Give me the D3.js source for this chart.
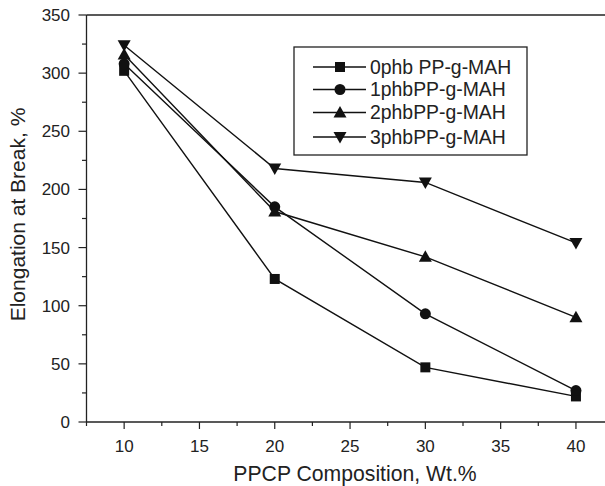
<!DOCTYPE html>
<html>
<head>
<meta charset="utf-8">
<script src="https://cdn.jsdelivr.net/npm/d3@7"></script>
<style>
body { margin: 0; background: #fff; }
text { font-family: "Liberation Sans", Arial, Helvetica, sans-serif; fill: #222; }
</style>
</head>
<body>
<svg id="chart" width="605" height="486"></svg>
<script>
// data
var composition = [10, 20, 30, 40];
var seriesNames = ["0phb PP-g-MAH", "1phbPP-g-MAH", "2phbPP-g-MAH", "3phbPP-g-MAH"];
var phb0 = [302, 123, 47, 22];
var phb1 = [308, 185, 93, 27];
var phb2 = [316, 181, 142, 90];
var phb3 = [324, 218, 206, 154];
var yTicks = [0, 50, 100, 150, 200, 250, 300, 350];
var xTicks = [10, 15, 20, 25, 30, 35, 40];

var series = [
  { name: seriesNames[0], values: phb0, shape: "square" },
  { name: seriesNames[1], values: phb1, shape: "circle" },
  { name: seriesNames[2], values: phb2, shape: "up" },
  { name: seriesNames[3], values: phb3, shape: "down" }
];

var svg = d3.select("#chart");
var padLeft = 86.5, padTop = 15, padBottom = 422;

var x = d3.scaleLinear().domain([7.5, 42.5]).range([padLeft, padLeft + 35 * 15.06]);
var y = d3.scaleLinear().domain([0, 350]).range([padBottom, padTop]);

function marker(sel, shape) {
  if (shape === "square") {
    sel.append("rect").attr("x", -5).attr("y", -5).attr("width", 10).attr("height", 10);
  } else if (shape === "circle") {
    sel.append("circle").attr("r", 5.5);
  } else if (shape === "up") {
    sel.append("path").attr("d", "M0,-6.5L6.5,5L-6.5,5Z");
  } else {
    sel.append("path").attr("d", "M0,6.5L6.5,-5L-6.5,-5Z");
  }
  sel.selectAll("*").attr("fill", "#111");
}

// frame top line + axes
svg.append("line").attr("x1", padLeft).attr("x2", 605).attr("y1", padTop).attr("y2", padTop)
  .attr("stroke", "#222").attr("stroke-width", 1.3);

var yMinor = d3.range(25, 350, 50);
var gy = svg.append("g");
gy.append("line").attr("x1", padLeft).attr("x2", padLeft).attr("y1", padTop).attr("y2", padBottom)
  .attr("stroke", "#222").attr("stroke-width", 1.3);
gy.selectAll(".maj").data(yTicks).enter().append("line")
  .attr("x1", padLeft - 8).attr("x2", padLeft).attr("y1", function (d) { return y(d); }).attr("y2", function (d) { return y(d); })
  .attr("stroke", "#222").attr("stroke-width", 1.2);
gy.selectAll(".min").data(yMinor).enter().append("line")
  .attr("x1", padLeft - 4.5).attr("x2", padLeft).attr("y1", function (d) { return y(d); }).attr("y2", function (d) { return y(d); })
  .attr("stroke", "#222").attr("stroke-width", 1.2);
gy.selectAll("text").data(yTicks).enter().append("text")
  .attr("x", 70).attr("y", function (d) { return y(d) + 6; })
  .attr("text-anchor", "end").style("font-size", "17px")
  .text(function (d) { return d; });

var xMinor = d3.range(7.5, 45, 5);
var gx = svg.append("g");
gx.append("line").attr("x1", padLeft).attr("x2", 605).attr("y1", padBottom).attr("y2", padBottom)
  .attr("stroke", "#222").attr("stroke-width", 1.3);
gx.selectAll(".maj").data(xTicks).enter().append("line")
  .attr("x1", function (d) { return x(d); }).attr("x2", function (d) { return x(d); })
  .attr("y1", padBottom).attr("y2", padBottom + 7)
  .attr("stroke", "#222").attr("stroke-width", 1.2);
gx.selectAll(".min").data(xMinor).enter().append("line")
  .attr("x1", function (d) { return x(d); }).attr("x2", function (d) { return x(d); })
  .attr("y1", padBottom).attr("y2", padBottom + 4)
  .attr("stroke", "#222").attr("stroke-width", 1.2);
gx.selectAll("text").data(xTicks).enter().append("text")
  .attr("x", function (d) { return x(d); }).attr("y", 452)
  .attr("text-anchor", "middle").style("font-size", "17px")
  .text(function (d) { return d; });

svg.append("text").attr("x", 355).attr("y", 481).attr("text-anchor", "middle")
  .style("font-size", "21.2px").text("PPCP Composition, Wt.%");
svg.append("text").attr("transform", "translate(25,214.5) rotate(-90)").attr("text-anchor", "middle")
  .style("font-size", "21px").text("Elongation at Break, %");

// series
var line = d3.line().x(function (d, i) { return x(composition[i]); }).y(function (d) { return y(d); });
series.forEach(function (s) {
  svg.append("path").attr("d", line(s.values)).attr("fill", "none")
    .attr("stroke", "#111").attr("stroke-width", 1.4);
  s.values.forEach(function (v, i) {
    var g = svg.append("g").attr("transform", "translate(" + x(composition[i]) + "," + y(v) + ")");
    marker(g, s.shape);
  });
});

// legend
var lg = svg.append("g");
lg.append("rect").attr("x", 294).attr("y", 47).attr("width", 233).attr("height", 108)
  .attr("fill", "#fff").attr("stroke", "#222").attr("stroke-width", 1.3);
var rowY = [67, 89.5, 112.5, 137];
series.forEach(function (s, i) {
  lg.append("line").attr("x1", 313).attr("x2", 366).attr("y1", rowY[i]).attr("y2", rowY[i])
    .attr("stroke", "#111").attr("stroke-width", 1.4);
  var g = lg.append("g").attr("transform", "translate(340," + rowY[i] + ")");
  marker(g, s.shape);
  lg.append("text").attr("x", 370).attr("y", rowY[i] + 6.8).style("font-size", "19.4px").text(s.name);
});
</script>
</body>
</html>
